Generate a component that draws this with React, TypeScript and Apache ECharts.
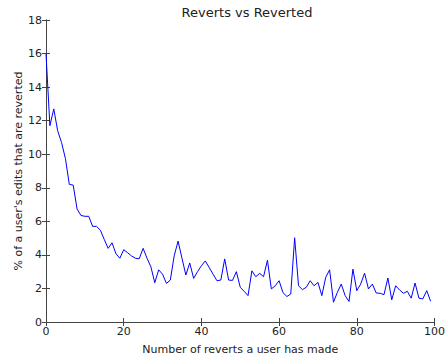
import React, { useEffect, useRef } from "react";
import * as echarts from "echarts";

const xValues: number[] = Array.from({ length: 100 }, (_, i) => i);
const reverted: number[] = [
  16.0, 11.7, 12.7, 11.4, 10.7, 9.74, 8.2, 8.16, 6.73, 6.35,
  6.3, 6.3, 5.7, 5.7, 5.47, 4.92, 4.39, 4.72, 4.07, 3.8,
  4.31, 4.13, 3.94, 3.8, 3.77, 4.39, 3.8, 3.29, 2.34, 3.11,
  2.85, 2.3, 2.5, 3.95, 4.82, 3.8, 2.8, 3.52, 2.6, 3.0,
  3.35, 3.64, 3.25, 2.85, 2.46, 2.5, 3.76, 2.5, 2.48, 3.0,
  2.07, 1.83, 1.57, 3.05, 2.7, 2.9, 2.7, 3.68, 1.97, 2.16,
  2.46, 1.75, 1.52, 1.67, 5.02, 2.16, 1.93, 2.07, 2.46, 2.16,
  2.36, 1.57, 2.66, 3.11, 1.18, 1.77, 2.26, 1.57, 1.22, 3.15,
  1.87, 2.26, 2.91, 1.97, 2.26, 1.73, 1.71, 1.63, 2.62, 1.32,
  2.16, 1.91, 1.71, 1.83, 1.42, 2.32, 1.42, 1.38, 1.87, 1.24,
];

const FONT = "DejaVu Sans";
const AXIS = "#444";
const TXT = "#222";

export default function App() {
  const ref = useRef<HTMLDivElement>(null);
  useEffect(() => {
    if (!ref.current) return;
    const chart = echarts.init(ref.current, undefined, { renderer: "svg" });
    const tick = { show: true, inside: true, length: 4, lineStyle: { color: AXIS, width: 1 } };
    chart.setOption({
      animation: false,
      backgroundColor: "#fff",
      title: {
        text: "Reverts vs Reverted",
        left: 242,
        textAlign: "center",
        top: 1,
        textStyle: { fontFamily: FONT, fontSize: 13, fontWeight: "normal", color: TXT },
      },
      grid: { left: 46, right: 9, top: 20, bottom: 35 },
      xAxis: [
        {
          type: "value",
          min: 0,
          max: 100,
          interval: 20,
          name: "Number of reverts a user has made",
          nameLocation: "middle",
          nameGap: 22,
          nameTextStyle: { fontFamily: FONT, fontSize: 11, color: TXT },
          axisLine: { show: true, lineStyle: { color: AXIS, width: 1 } },
          axisTick: tick,
          axisLabel: { fontFamily: FONT, fontSize: 11, color: TXT, margin: 4 },
          splitLine: { show: false },
        },
        {
          type: "value",
          position: "top",
          min: 0,
          max: 100,
          interval: 20,
          axisLine: { show: true, lineStyle: { color: AXIS, width: 1 } },
          axisTick: tick,
          axisLabel: { show: false },
          splitLine: { show: false },
        },
      ],
      yAxis: [
        {
          type: "value",
          min: 0,
          max: 18,
          interval: 2,
          name: "% of a user's edits that are reverted",
          nameLocation: "middle",
          nameGap: 22,
          nameMoveOverlap: false,
          nameTextStyle: { fontFamily: FONT, fontSize: 11, color: TXT },
          axisLine: { show: true, lineStyle: { color: AXIS, width: 1 } },
          axisTick: tick,
          axisLabel: { fontFamily: FONT, fontSize: 11, color: TXT, margin: 4 },
          splitLine: { show: false },
        },
        {
          type: "value",
          position: "right",
          min: 0,
          max: 18,
          interval: 2,
          axisLine: { show: true, lineStyle: { color: AXIS, width: 1 } },
          axisTick: tick,
          axisLabel: { show: false },
          splitLine: { show: false },
        },
      ],
      series: [
        {
          type: "line",
          data: xValues.map((x, i) => [x, reverted[i]]),
          showSymbol: false,
          lineStyle: { color: "#0000ff", width: 1 },
          itemStyle: { color: "#0000ff" },
        },
      ],
    });
    return () => chart.dispose();
  }, []);
  return <div ref={ref} style={{ width: 448, height: 360, position: "absolute", left: 0, top: 0 }} />;
}
